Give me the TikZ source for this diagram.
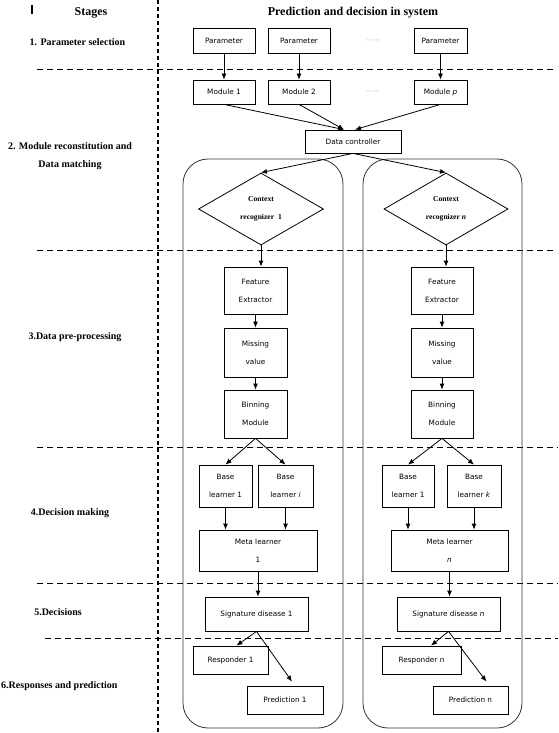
\documentclass[tikz,border=0pt]{standalone}
\usepackage{fontspec}
\setmainfont{Liberation Serif}
\newfontfamily\boxfont{DejaVu Sans}
\usetikzlibrary{arrows.meta,shapes.geometric,calc}
\begin{document}
\begin{tikzpicture}[x=1pt,y=-1pt,
  box/.style={draw, line width=0.8pt, inner sep=0pt, align=center, font=\boxfont\fontsize{7.3}{18}\selectfont},
  dia/.style={draw, shape=diamond, line width=0.8pt, inner sep=0pt, align=center, font=\bfseries\fontsize{7.6}{18}\selectfont},
  arr/.style={-{Latex[length=6pt,width=5pt]}, line width=0.8pt},
  stage/.style={font=\bfseries\fontsize{10}{12}\selectfont, inner sep=0pt},
  head/.style={font=\bfseries\fontsize{12}{14}\selectfont, inner sep=0pt},
  sepline/.style={dash pattern=on 6pt off 4pt, line width=1pt},
  vsep/.style={dash pattern=on 4pt off 3pt, line width=1.2pt},
  cont/.style={draw=black!80, line width=0.8pt, rounded corners=25pt},
  dots/.style={font=\boxfont\fontsize{6}{7}\selectfont, text=black!55, inner sep=0pt},
]
\useasboundingbox (0,0) rectangle (558,733);

% separators
\draw[vsep] (158,0) -- (158,733);
\draw[sepline] (37,70) -- (553,70);
\draw[sepline] (37,250) -- (553,250);
\draw[sepline] (37,447) -- (558,447);
\draw[sepline] (37,583) -- (558,583);
\draw[sepline] (45,638) -- (558,638);
\draw[line width=1.2pt] (32,5) -- (32,14);

% headers and stage labels
\node[head] (hstages) at (91,13) {Stages};
\node[head] (hpred) at (353,13) {Prediction and decision in system};
\node[stage] (s1) at (77.5,42) {1. Parameter selection};
\node[stage, align=center, font=\bfseries\fontsize{10}{18}\selectfont] (s2) at (70,156) {2. Module reconstitution and\\Data matching};
\node[stage] (s3) at (75,337) {3.Data pre-processing};
\node[stage] (s4) at (70,513) {4.Decision making};
\node[stage] (s5) at (58,612) {5.Decisions};
\node[stage, anchor=west] (s6) at (1,686) {6.Responses and prediction};

% containers
\draw[cont] (183,159) rectangle (343,728);
\draw[cont] (363,159) rectangle (522,728);

% top boxes
\node[box, minimum width=62pt, minimum height=25pt] (p1) at (224,40.5) {Parameter};
\node[box, minimum width=62pt, minimum height=25pt] (p2) at (299,40.5) {Parameter};
\node[box, minimum width=53pt, minimum height=25pt] (p3) at (440.5,40.5) {Parameter};
\node[dots] (d1) at (373,41) {··· ···};
\node[box, minimum width=62pt, minimum height=24pt] (m1) at (224,92) {Module 1};
\node[box, minimum width=62pt, minimum height=24pt] (m2) at (299,92) {Module 2};
\node[box, minimum width=53pt, minimum height=24pt] (mp) at (440.5,92) {Module \textit{p}};
\node[dots] (d2) at (373,92) {··· ···};
\node[box, minimum width=96pt, minimum height=23pt] (dc) at (353,141.5) {Data controller};

\draw[arr] (p1) -- (m1);
\draw[arr] (p2) -- (m2);
\draw[arr] (p3) -- (mp);
\draw[arr] (m1.south) -- ([xshift=-9pt]dc.north);
\draw[arr] (m2.south) -- ([xshift=-9pt]dc.north);
\draw[arr] (mp.south) -- ([xshift=2pt]dc.north);

% left column
\node[dia, minimum width=125pt, minimum height=72pt] (cr1) at (261,209) {Context\\recognizer\ \ 1};
\node[box, minimum width=63pt, minimum height=47pt] (fe1) at (255.5,290.5) {Feature\\Extractor};
\node[box, minimum width=63pt, minimum height=49pt] (mv1) at (255.5,352.5) {Missing\\value};
\node[box, minimum width=63pt, minimum height=48pt] (bm1) at (255.5,414) {Binning\\Module};
\node[box, minimum width=53pt, minimum height=42pt] (b11) at (225.5,486) {Base\\learner 1};
\node[box, minimum width=55pt, minimum height=42pt] (b1i) at (285.5,486) {Base\\learner \textit{i}};
\node[box, minimum width=118pt, minimum height=41pt] (ml1) at (258,550.5) {Meta learner\\1};
\node[box, minimum width=103pt, minimum height=34pt] (sd1) at (256.5,614) {Signature disease 1};
\node[box, minimum width=75pt, minimum height=28pt] (r1) at (230.5,660) {Responder 1};
\node[box, minimum width=76pt, minimum height=28pt] (pr1) at (285,700) {Prediction 1};

% right column
\node[dia, minimum width=124pt, minimum height=72pt] (crn) at (446,209) {Context\\recognizer \textit{n}};
\node[box, minimum width=62pt, minimum height=47pt] (fen) at (442,290.5) {Feature\\Extractor};
\node[box, minimum width=62pt, minimum height=49pt] (mvn) at (442,352.5) {Missing\\value};
\node[box, minimum width=62pt, minimum height=48pt] (bmn) at (442,414) {Binning\\Module};
\node[box, minimum width=52pt, minimum height=42pt] (bn1) at (408,486) {Base\\learner 1};
\node[box, minimum width=54pt, minimum height=42pt] (bnk) at (474,486) {Base\\learner \textit{k}};
\node[box, minimum width=117pt, minimum height=41pt] (mln) at (449.5,550.5) {Meta learner\\\textit{n}};
\node[box, minimum width=103pt, minimum height=34pt] (sdn) at (448.5,614) {Signature disease \textit{n}};
\node[box, minimum width=79pt, minimum height=28pt] (rn) at (421.5,660) {Responder n};
\node[box, minimum width=75pt, minimum height=28pt] (prn) at (470.5,700) {Prediction n};

% connectors
\draw[arr] (dc.south) -- (cr1.north);
\draw[arr] (dc.south) -- (crn.north);

\draw[arr] (cr1.south) -- (cr1.south |- fe1.north);
\draw[arr] (fe1) -- (mv1);
\draw[arr] (mv1) -- (bm1);
\draw[arr] (bm1.south) -- (b11.north);
\draw[arr] (bm1.south) -- (b1i.north);
\draw[arr] (b11.south) -- (b11.south |- ml1.north);
\draw[arr] (b1i.south) -- (b1i.south |- ml1.north);
\draw[arr] (ml1.south) -- (ml1.south |- sd1.north);
\draw[arr] (sd1.south) -- ([xshift=6pt]r1.north);
\draw[arr] (sd1.south) -- ([xshift=7pt,yshift=4pt]pr1.north);

\draw[arr] (crn.south) -- (crn.south |- fen.north);
\draw[arr] (fen) -- (mvn);
\draw[arr] (mvn) -- (bmn);
\draw[arr] (bmn.south) -- (bn1.north);
\draw[arr] (bmn.south) -- (bnk.north);
\draw[arr] (bn1.south) -- (bn1.south |- mln.north);
\draw[arr] (bnk.south) -- (bnk.south |- mln.north);
\draw[arr] (mln.south) -- (mln.south |- sdn.north);
\draw[arr] (sdn.south) -- ([xshift=9.5pt]rn.north);
\draw[arr] (sdn.south) -- ([xshift=16pt,yshift=4pt]prn.north);
\end{tikzpicture}
\end{document}
